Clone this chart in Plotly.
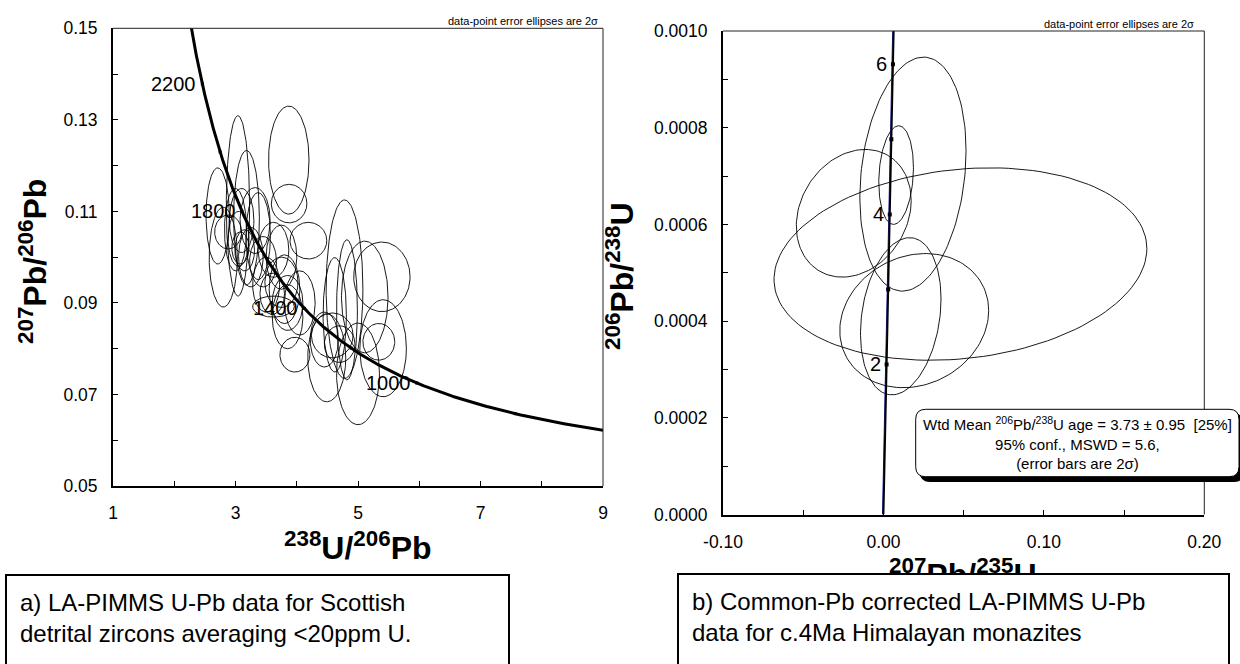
import numpy as np
import plotly.graph_objects as go

W, H = 1240, 664
FONT = "Liberation Sans, Arial, sans-serif"

# decay constants (per year) and present-day 238U/235U
L238 = 1.55125e-10
L235 = 9.8485e-10
U_RATIO = 137.88

# ---------------- panel a: Tera-Wasserburg, detrital zircons ----------------
a_x = [3.87, 3.875, 3.04, 3.18, 2.71, 2.80, 2.88, 3.00, 3.05, 3.08,
       3.15, 3.10, 3.32, 3.37, 3.25, 3.45, 3.62, 3.75, 4.19, 3.50,
       3.60, 3.75, 3.80, 3.85, 3.85, 3.62, 4.05, 3.97, 4.78, 4.82,
       4.62, 5.11, 5.39, 5.41, 5.00, 4.49, 4.58, 5.34, 4.70, 4.45]
a_y = [0.1212, 0.1117, 0.1112, 0.1086, 0.1090, 0.1000, 0.1055, 0.1060, 0.1040, 0.1020,
       0.1015, 0.1080, 0.1080, 0.1046, 0.1000, 0.0990, 0.1016, 0.1000, 0.1036, 0.0940,
       0.0920, 0.0945, 0.0930, 0.0900, 0.0870, 0.0892, 0.0900, 0.0787, 0.0930, 0.0885,
       0.0874, 0.0913, 0.0957, 0.0801, 0.0745, 0.0780, 0.0829, 0.0815, 0.0810, 0.0820]
a_sx = [0.33, 0.29, 0.19, 0.21, 0.19, 0.23, 0.22, 0.18, 0.17, 0.14,
        0.16, 0.20, 0.245, 0.20, 0.20, 0.22, 0.25, 0.25, 0.30, 0.22,
        0.20, 0.27, 0.25, 0.25, 0.25, 0.34, 0.25, 0.245, 0.30, 0.17,
        0.19, 0.38, 0.46, 0.38, 0.35, 0.31, 0.34, 0.26, 0.25, 0.23]
a_sy = [0.0118, 0.0042, 0.0197, 0.0147, 0.0105, 0.0109, 0.0037, 0.0090, 0.0060, 0.0035,
        0.0045, 0.0070, 0.0072, 0.0095, 0.0065, 0.0055, 0.0060, 0.0070, 0.0040, 0.0060,
        0.0045, 0.0055, 0.0075, 0.0060, 0.0070, 0.0023, 0.0070, 0.0038, 0.0195, 0.0153,
        0.0125, 0.0122, 0.0076, 0.0106, 0.0111, 0.0096, 0.0049, 0.0040, 0.0040, 0.0060]
a_rho = [0.0] * len(a_x)

a_curve_ages = np.linspace(600, 2400, 500)          # Ma
a_tick_ages = [800, 1000, 1200, 1400, 1600, 1800, 2000, 2200]
a_label_ages = [1000, 1400, 1800, 2200]

a_xtick_vals = [1, 3, 5, 7, 9]
a_xtick_text = ["1", "3", "5", "7", "9"]
a_ytick_vals = [0.05, 0.07, 0.09, 0.11, 0.13, 0.15]
a_ytick_text = ["0.05", "0.07", "0.09", "0.11", "0.13", "0.15"]

# ---------------- panel b: Wetherill, Himalayan monazites ----------------
b_x = [0.0480, 0.0184, 0.0079, -0.0185, 0.0108, 0.0192]
b_y = [0.000518, 0.000704, 0.000702, 0.000623, 0.000410, 0.000401]
b_sx = [0.1162, 0.0331, 0.0108, 0.0358, 0.0251, 0.0464]
b_sy = [0.000199, 0.000242, 0.000102, 0.000132, 0.0001625, 0.0001387]
b_rho = [0.16, 0.20, 0.15, 0.20, 0.22, 0.15]

b_curve_ages = np.linspace(0.0, 6.6, 200)          # Ma
b_band_offset = -0.0006
b_tick_ages = [2, 3, 4, 5, 6]
b_label_ages = [2, 4, 6]

b_xtick_vals = [-0.10, 0.0, 0.10, 0.20]
b_xtick_text = ["-0.10", "0.00", "0.10", "0.20"]
b_ytick_vals = [0.0, 0.0002, 0.0004, 0.0006, 0.0008, 0.0010]
b_ytick_text = ["0.0000", "0.0002", "0.0004", "0.0006", "0.0008", "0.0010"]

wtd_mean_text = ("Wtd Mean <sup>206</sup>Pb/<sup>238</sup>U age = 3.73 ± 0.95&nbsp;&nbsp;[25%]<br>"
                 "95% conf., MSWD = 5.6,<br>(error bars are 2σ)")
caption_a = "a) LA-PIMMS U-Pb data for Scottish<br>detrital zircons averaging &lt;20ppm U."
caption_b = "b) Common-Pb corrected LA-PIMMS U-Pb<br>data for c.4Ma Himalayan monazites"


# ---------------- helpers ----------------
def ellipses(xs, ys, sxs, sys_, rhos, n=140):
    t = np.linspace(0, 2 * np.pi, n)
    X, Y = [], []
    for cx, cy, sx, sy, r in zip(xs, ys, sxs, sys_, rhos):
        X += list(cx + sx * np.cos(t)) + [None]
        Y += list(cy + sy * (r * np.cos(t) + np.sqrt(1 - r * r) * np.sin(t))) + [None]
    return X, Y


def tera_wasserburg(age_ma):
    a = np.asarray(age_ma, dtype=float) * 1e6
    e238 = np.expm1(L238 * a)
    e235 = np.expm1(L235 * a)
    return 1.0 / e238, e235 / e238 / U_RATIO


def wetherill(age_ma):
    a = np.asarray(age_ma, dtype=float) * 1e6
    return np.expm1(L235 * a), np.expm1(L238 * a)


def px(x):
    return x / W


def py(y):
    return 1 - y / H


fig = go.Figure()

# panel a
ex, ey = ellipses(a_x, a_y, a_sx, a_sy, a_rho)
fig.add_trace(go.Scatter(x=ex, y=ey, mode="lines", line=dict(color="black", width=0.9),
                         xaxis="x", yaxis="y", hoverinfo="skip"))
cx, cy = tera_wasserburg(a_curve_ages)
fig.add_trace(go.Scatter(x=cx, y=cy, mode="lines", line=dict(color="black", width=3),
                         xaxis="x", yaxis="y"))
tx, ty = tera_wasserburg(a_tick_ages)
fig.add_trace(go.Scatter(x=tx, y=ty, mode="markers",
                         marker=dict(symbol="square", size=3, color="black"),
                         xaxis="x", yaxis="y"))

# panel b
ex, ey = ellipses(b_x, b_y, b_sx, b_sy, b_rho)
fig.add_trace(go.Scatter(x=ex, y=ey, mode="lines", line=dict(color="black", width=0.9),
                         xaxis="x2", yaxis="y2", hoverinfo="skip"))
wx, wy = wetherill(b_curve_ages)
fig.add_trace(go.Scatter(x=wx + b_band_offset, y=wy, mode="lines",
                         line=dict(color="#2020a0", width=1), xaxis="x2", yaxis="y2"))
fig.add_trace(go.Scatter(x=wx, y=wy, mode="lines", line=dict(color="black", width=2),
                         xaxis="x2", yaxis="y2"))
tx2, ty2 = wetherill(b_tick_ages)
fig.add_trace(go.Scatter(x=tx2, y=ty2, mode="markers",
                         marker=dict(symbol="square", size=4, color="black"),
                         xaxis="x2", yaxis="y2"))

tickfont = dict(family=FONT, size=17.5, color="black")
axis_common = dict(showline=True, linewidth=2, linecolor="black", showgrid=False,
                   zeroline=False, ticks="inside", ticklen=5, tickwidth=1,
                   tickcolor="black", tickfont=tickfont, tickmode="array",
                   automargin=False)

fig.update_layout(
    template="none",
    width=W, height=H, margin=dict(l=0, r=0, t=0, b=0, pad=0),
    paper_bgcolor="white", plot_bgcolor="white", showlegend=False,
    font=dict(family=FONT, color="black"),
    xaxis=dict(domain=[px(113), px(603)], range=[1, 9], anchor="y",
               tickvals=a_xtick_vals, ticktext=a_xtick_text, ticklabelstandoff=10,
               minor=dict(ticks="inside", ticklen=5, tickcolor="black", dtick=1, tick0=1),
               **axis_common),
    yaxis=dict(domain=[py(486), py(28.3)], range=[0.05, 0.15], anchor="x",
               tickvals=a_ytick_vals, ticktext=a_ytick_text, ticklabelstandoff=10,
               minor=dict(ticks="inside", ticklen=5, tickcolor="black", dtick=0.01, tick0=0.05),
               **axis_common),
    xaxis2=dict(domain=[px(723), px(1204.3)], range=[-0.1, 0.2], anchor="y2",
                tickvals=b_xtick_vals, ticktext=b_xtick_text, ticklabelstandoff=10,
                minor=dict(ticks="inside", ticklen=5, tickcolor="black", dtick=0.05, tick0=0),
                **axis_common),
    yaxis2=dict(domain=[py(514.5), py(31)], range=[0, 0.001], anchor="x2",
                tickvals=b_ytick_vals, ticktext=b_ytick_text, ticklabelstandoff=10,
                minor=dict(ticks="inside", ticklen=5, tickcolor="black", dtick=0.0001, tick0=0),
                **axis_common),
)

# thin top/right frame lines
for xr, yr in (("x domain", "y domain"), ("x2 domain", "y2 domain")):
    fig.add_shape(type="line", xref=xr, yref=yr, x0=0, x1=1, y0=1, y1=1,
                  line=dict(color="#222", width=1))
    fig.add_shape(type="line", xref=xr, yref=yr, x0=1, x1=1, y0=0, y1=1,
                  line=dict(color="#222", width=1))


def rounded_rect(x0, y0, x1, y1, r):
    rx, ry = r / W, r / H
    X0, X1, Y0, Y1 = px(x0), px(x1), py(y0), py(y1)
    return (f"M {X0+rx},{Y0} L {X1-rx},{Y0} Q {X1},{Y0} {X1},{Y0-ry} "
            f"L {X1},{Y1+ry} Q {X1},{Y1} {X1-rx},{Y1} L {X0+rx},{Y1} "
            f"Q {X0},{Y1} {X0},{Y1+ry} L {X0},{Y0-ry} Q {X0},{Y0} {X0+rx},{Y0} Z")


# Wtd-mean box with shadow
fig.add_shape(type="path", xref="paper", yref="paper", layer="above",
              path=rounded_rect(920, 414, 1244, 481.5, 10),
              fillcolor="black", line=dict(color="black", width=1))
fig.add_shape(type="path", xref="paper", yref="paper", layer="above",
              path=rounded_rect(915.7, 409.3, 1239, 476.7, 10),
              fillcolor="white", line=dict(color="black", width=1))

ann = []
# concordia age labels
for age in a_label_ages:
    x, y = tera_wasserburg([age])
    ann.append(dict(x=float(x[0]), y=float(y[0]), xref="x", yref="y", text=str(age),
                    showarrow=False, xanchor="right", yanchor="middle", xshift=-4,
                    font=dict(family=FONT, size=20, color="black")))
for age in b_label_ages:
    x, y = wetherill([age])
    ann.append(dict(x=float(x[0]), y=float(y[0]), xref="x2", yref="y2", text=str(age),
                    showarrow=False, xanchor="right", yanchor="middle", xshift=-4,
                    font=dict(family=FONT, size=20, color="black")))

# small notes
for xr, yy in ((600, 20.7), (1196, 24)):
    ann.append(dict(x=px(xr), y=py(yy), xref="paper", yref="paper",
                    text="data-point error ellipses are 2σ", showarrow=False,
                    xanchor="right", yanchor="middle",
                    font=dict(family=FONT, size=11, color="black")))

# axis titles
title_font = dict(family=FONT, size=32, color="black")
ann.append(dict(x=px(33), y=py(262), xref="paper", yref="paper", textangle=-90,
                text="<b><sup>207</sup>Pb/<sup>206</sup>Pb</b>", showarrow=False,
                xanchor="center", yanchor="middle", font=title_font))
ann.append(dict(x=px(358), y=py(546), xref="paper", yref="paper",
                text="<b><sup>238</sup>U/<sup>206</sup>Pb</b>", showarrow=False,
                xanchor="center", yanchor="middle", font=title_font))
ann.append(dict(x=px(620), y=py(276), xref="paper", yref="paper", textangle=-90,
                text="<b><sup>206</sup>Pb/<sup>238</sup>U</b>", showarrow=False,
                xanchor="center", yanchor="middle", font=title_font))
ann.append(dict(x=px(963), y=py(573), xref="paper", yref="paper",
                text="<b><sup>207</sup>Pb/<sup>235</sup>U</b>", showarrow=False,
                xanchor="center", yanchor="middle", font=title_font))

# wtd mean text
ann.append(dict(x=px(1077), y=py(443), xref="paper", yref="paper", text=wtd_mean_text,
                showarrow=False, xanchor="center", yanchor="middle", align="center",
                font=dict(family=FONT, size=15, color="black")))

# caption boxes (drawn last so they cover the lower axis title)
cap_font = dict(family=FONT, size=24, color="black")
ann.append(dict(x=px(5), y=py(574), xref="paper", yref="paper", text=caption_a,
                showarrow=False, xanchor="left", yanchor="top", align="left",
                valign="top", width=475, height=110, bgcolor="white",
                bordercolor="black", borderwidth=2, borderpad=13, font=cap_font))
ann.append(dict(x=px(676.7), y=py(573), xref="paper", yref="paper", text=caption_b,
                showarrow=False, xanchor="left", yanchor="top", align="left",
                valign="top", width=523, height=110, bgcolor="white",
                bordercolor="black", borderwidth=2, borderpad=13, font=cap_font))

fig.update_layout(annotations=ann)
fig.write_html("out.html")
